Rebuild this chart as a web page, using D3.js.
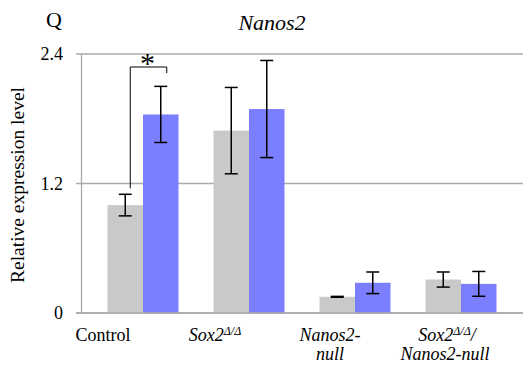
<!DOCTYPE html>
<html>
<head>
<meta charset="utf-8">
<script src="https://cdn.jsdelivr.net/npm/d3@7"></script>
<style>
  body { margin: 0; background: #fff; }
</style>
</head>
<body>
<div id="chart"></div>
<script>
// chart values
const groups = ["Control", "Sox2", "Nanos2-null", "Sox2/Nanos2-null"];
const series = ["grey", "blue"];
const greyValues = [1.0, 1.69, 0.15, 0.31];
const greyErrors = [0.1, 0.4, 0.004, 0.07];
const blueValues = [1.84, 1.89, 0.28, 0.27];
const blueErrors = [0.26, 0.45, 0.1, 0.115];
const yTicks = [0, 1.2, 2.4];

const width = 524;
const height = 371;
const serif = '"Liberation Serif", monospace';

const svg = d3.select("#chart")
  .append("svg")
  .attr("width", width)
  .attr("height", height);

const x = d3.scaleBand().domain(groups).range([90, 514]);
const xInner = d3.scaleBand().domain(series).range([17.5, 88.5]);
const y = d3.scaleLinear().domain([0, 2.4]).range([313, 54]);

const colors = { grey: "#c9c9c9", blue: "#7b7fff" };

// gridlines + ticks
svg.selectAll("line.grid")
  .data(yTicks)
  .enter()
  .append("line")
  .attr("x1", 76)
  .attr("x2", 523)
  .attr("y1", d => y(d))
  .attr("y2", d => y(d))
  .attr("stroke", "#aaa")
  .attr("stroke-width", 1.3);

svg.append("line")
  .attr("x1", 81.5).attr("x2", 81.5)
  .attr("y1", y(2.4)).attr("y2", y(0))
  .attr("stroke", "#aaa")
  .attr("stroke-width", 1.3);

svg.selectAll("text.tick")
  .data(yTicks)
  .enter()
  .append("text")
  .attr("x", 63)
  .attr("y", d => y(d) + 6)
  .attr("text-anchor", "end")
  .style("font-family", serif)
  .style("font-size", "18px")
  .text(d => d === 0 ? "0" : d.toFixed(1));

// bars
const rows = groups.map((g, i) => [
  { g, s: "grey", v: greyValues[i], e: greyErrors[i] },
  { g, s: "blue", v: blueValues[i], e: blueErrors[i] },
]).flat();

svg.selectAll("rect.bar")
  .data(rows)
  .enter()
  .append("rect")
  .attr("x", d => x(d.g) + xInner(d.s))
  .attr("y", d => y(d.v))
  .attr("width", xInner.bandwidth())
  .attr("height", d => y(0) - y(d.v))
  .attr("fill", d => colors[d.s]);

// bottom axis line drawn over bars
svg.append("line")
  .attr("x1", 76).attr("x2", 523)
  .attr("y1", y(0)).attr("y2", y(0))
  .attr("stroke", "#aaa")
  .attr("stroke-width", 1.3);

// error bars
const cx = d => x(d.g) + xInner(d.s) + xInner.bandwidth() / 2;
const err = svg.append("g").attr("stroke", "#000").attr("stroke-width", 1.5);
rows.forEach(d => {
  err.append("line")
    .attr("x1", cx(d)).attr("x2", cx(d))
    .attr("y1", y(d.v + d.e)).attr("y2", y(d.v - d.e));
  [d.v + d.e, d.v - d.e].forEach(v => {
    err.append("line")
      .attr("x1", cx(d) - 6.5).attr("x2", cx(d) + 6.5)
      .attr("y1", y(v)).attr("y2", y(v));
  });
});

// significance bracket between control bars
const c0 = rows[0], c1 = rows[1];
const bx1 = cx(c0) + 5, bx2 = cx(c1) + 6, by = 67;
svg.append("path")
  .attr("d", `M${bx1},${y(c0.v + c0.e) - 6}V${by}H${bx2}V${by + 6}`)
  .attr("fill", "none")
  .attr("stroke", "#000")
  .attr("stroke-width", 1);
svg.append("text")
  .attr("x", (bx1 + bx2) / 2 - 1)
  .attr("y", by + 6)
  .attr("text-anchor", "middle")
  .style("font-family", serif)
  .style("font-size", "30px")
  .text("*");

// title and panel letter
svg.append("text")
  .attr("x", 46).attr("y", 27)
  .style("font-family", serif)
  .style("font-size", "22px")
  .text("Q");
svg.append("text")
  .attr("x", 272).attr("y", 30)
  .attr("text-anchor", "middle")
  .style("font-family", serif)
  .style("font-size", "22px")
  .style("font-style", "italic")
  .text("Nanos2");

// y axis label
svg.append("text")
  .attr("transform", "translate(24,185) rotate(-90)")
  .attr("text-anchor", "middle")
  .style("font-family", serif)
  .style("font-size", "19.5px")
  .text("Relative expression level");

// x labels
const labelDx = [-40, -34, -25, -14];
const lab = svg.append("g").style("font-family", serif).style("font-size", "18px");
const lx = i => x(groups[i]) + x.bandwidth() / 2 + labelDx[i];

lab.append("text").attr("x", lx(0)).attr("y", 341)
  .attr("text-anchor", "middle").text("Control");

const s2 = lab.append("text").attr("x", lx(1)).attr("y", 341)
  .attr("text-anchor", "middle").style("font-style", "italic");
s2.append("tspan").text("Sox2");
s2.append("tspan").attr("dy", -6).style("font-size", "12px").text("Δ/Δ");

lab.append("text").attr("x", lx(2)).attr("y", 341)
  .attr("text-anchor", "middle").style("font-style", "italic").text("Nanos2-");
lab.append("text").attr("x", lx(2)).attr("y", 360)
  .attr("text-anchor", "middle").style("font-style", "italic").text("null");

const s3 = lab.append("text").attr("x", lx(3)).attr("y", 341)
  .attr("text-anchor", "middle").style("font-style", "italic");
s3.append("tspan").text("Sox2");
s3.append("tspan").attr("dy", -6).style("font-size", "12px").text("Δ/Δ");
s3.append("tspan").attr("dy", 6).text("/");
lab.append("text").attr("x", lx(3) - 2).attr("y", 360)
  .attr("text-anchor", "middle").style("font-style", "italic").text("Nanos2-null");
</script>
</body>
</html>
